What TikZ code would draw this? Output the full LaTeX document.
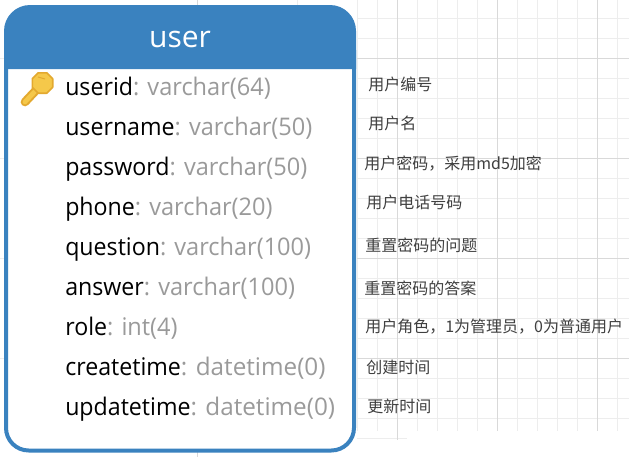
\documentclass[tikz,border=0pt]{standalone}
\usepackage{fontspec}
\setmainfont[FakeStretch=0.955]{Open Sans}
\newfontfamily\typefont[FakeStretch=0.97]{Open Sans}
\newfontfamily\timefont[FakeStretch=1.0]{Open Sans}
\newfontfamily\titlefont{Open Sans}
\newfontfamily\cjk{Noto Sans CJK SC}
\tikzset{
  x=0.75pt,y=-0.75pt,
  fld/.style={anchor=base west,inner sep=0pt,font=\fontsize{18.2pt}{20pt}\selectfont,text=black},
  nt/.style={anchor=base west,inner sep=0pt,font=\cjk\fontsize{12pt}{14pt}\selectfont,text=black!75},
  minorg/.style={draw=black!7,line width=0.75pt},
  majorg/.style={draw=black!15,line width=0.75pt},
}
\definecolor{cardblue}{HTML}{3A82BF}
\definecolor{typegray}{HTML}{9A9A9A}
\definecolor{keygold}{HTML}{F5C84A}
\definecolor{keyedge}{HTML}{E3A92F}
\newcommand{\ty}[1]{\textcolor{typegray}{\typefont #1}}
\newcommand{\tm}[1]{\textcolor{typegray}{\timefont #1}}
\begin{document}
\begin{tikzpicture}
\useasboundingbox (0,0) rectangle (629,457);
\fill[white] (0,0) rectangle (629,457);
% grid
\foreach \x in {357,377,417,437,457,477,517,537,557,577,617}
  \draw[minorg] (\x,0) -- (\x,431);
\foreach \y in {18,38,78,98,118,138,178,198,218,238,278,298,318,338,378,398,418}
  \draw[minorg] (357,\y) -- (629,\y);
\foreach \x in {397,497,597}
  \draw[majorg] (\x,0) -- (\x,431);
\foreach \y in {58,158,258,358}
  \draw[majorg] (357,\y) -- (629,\y);
\draw[minorg] (357,438) -- (407,438);
\draw[majorg] (397,431) -- (397,440);
\draw[majorg] (197,0) -- (197,6);
\draw[minorg] (297,0) -- (297,6);
\draw[minorg] (0,58) -- (5,58);
\draw[minorg] (0,158) -- (5,158);
\draw[minorg] (0,258) -- (5,258);
\draw[minorg] (0,358) -- (5,358);
\draw[majorg] (197,452) -- (197,457);
% card
\draw[cardblue,line width=3pt,fill=white,rounded corners=17pt] (6,50) -- (6,450.5) -- (354,450.5) -- (354,50);
\fill[cardblue] (4,69) {[rounded corners=19.5pt] -- (4,5) -- (356,5)} -- (356,69) -- cycle;
\node[inner sep=0pt,anchor=base,text=white,font=\titlefont\fontsize{22.5pt}{24pt}\selectfont] (title) at (180,47) {user};
% key
\draw[keyedge,line width=6.5pt,line cap=round] (40,86) -- (25,102);
\draw[keygold,line width=3.5pt,line cap=round] (40,86) -- (25,102);
\fill[keygold,draw=keyedge,line width=1.2pt,line join=round]
  (52.7,78.8) -- (52.7,87.2) -- (46.7,93.2) -- (38.3,93.2) -- (32.3,87.2) -- (32.3,78.8) -- (38.3,72.8) -- (46.7,72.8) -- cycle;
\draw[keyedge,line width=0.75pt] (38,77) -- (45,79);
% fields
\node[fld] (f1) at (65,95) {userid\ty{: varchar(64)}};
\node[fld] (f2) at (65,135) {username\ty{: varchar(50)}};
\node[fld] (f3) at (65,175) {password\ty{: varchar(50)}};
\node[fld] (f4) at (65,215) {phone\ty{: varchar(20)}};
\node[fld] (f5) at (65,255) {question\ty{: varchar(100)}};
\node[fld] (f6) at (65,295) {answer\ty{: varchar(100)}};
\node[fld] (f7) at (65,335) {role\ty{: int(4)}};
\node[fld] (f8) at (65,375) {createtime\tm{: datetime(0)}};
\node[fld] (f9) at (65,415) {updatetime\tm{: datetime(0)}};
% notes
\node[nt] (n1) at (368,90) {用户编号};
\node[nt] (n2) at (368,129) {用户名};
\node[nt] (n3) at (364,169) {用户密码，采用md5加密};
\node[nt] (n4) at (366,208) {用户电话号码};
\node[nt] (n5) at (365,251) {重置密码的问题};
\node[nt] (n6) at (364,294) {重置密码的答案};
\node[nt] (n7) at (365,332) {用户角色，1为管理员，0为普通用户};
\node[nt] (n8) at (366,373) {创建时间};
\node[nt] (n9) at (367,412) {更新时间};
\end{tikzpicture}
\end{document}
